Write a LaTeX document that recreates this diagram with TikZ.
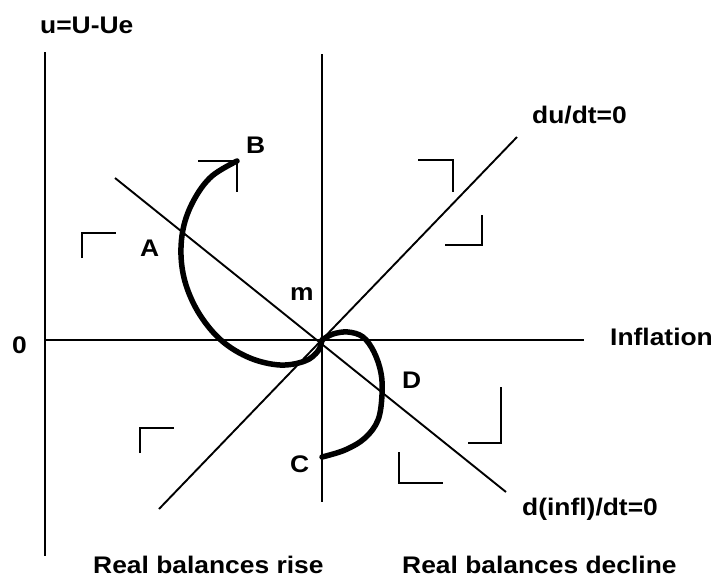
\documentclass[tikz,border=0pt]{standalone}
\usepackage{fontspec}
\setmainfont{Liberation Sans}[FakeStretch=1.1]
\begin{document}
\begin{tikzpicture}[x=1pt,y=-1pt,
  thinline/.style={line width=1.9pt, line cap=butt},
  thickcurve/.style={line width=5.5pt, line cap=round, line join=round},
  lbl/.style={inner sep=0pt, anchor=base west, font=\bfseries\fontsize{24}{28}\selectfont}]
\useasboundingbox (0,0) rectangle (713,579);
% axes and lines
\coordinate (lt) at (45,52);
\coordinate (lb) at (45,556);
\coordinate (mt) at (322,54);
\coordinate (mb) at (322,502);
\coordinate (hl) at (45,340);
\coordinate (hr) at (584,340);
\coordinate (o) at (322,340);
\coordinate (dua) at (159,509);
\coordinate (dub) at (517,137);
\coordinate (dia) at (115,178);
\coordinate (dib) at (506,492);
\draw[thinline] (lt) -- (lb);
\draw[thinline] (mt) -- (mb);
\draw[thinline] (hl) -- (hr);
\draw[thinline] (dua) -- (dub);
\draw[thinline] (dia) -- (dib);
% bracket marks
\draw[thinline] (82,258) -- (82,233) -- (116,233);
\draw[thinline] (198,161) -- (237,161) -- (237,192);
\draw[thinline] (418,160) -- (453,160) -- (453,192);
\draw[thinline] (482,215) -- (482,245) -- (445,245);
\draw[thinline] (501,387) -- (501,443) -- (468,443);
\draw[thinline] (399,452) -- (399,483) -- (443,483);
\draw[thinline] (140,453) -- (140,428) -- (174,428);
% trajectory curves
\draw[thickcurve] plot[smooth, tension=0.6] coordinates {(237,161) (212,176) (195,198) (184,225) (181,255) (186,285) (200,315) (222,341) (250,358) (280,365) (305,361) (318,351) (322,340)};
\draw[thickcurve] plot[smooth, tension=0.6] coordinates {(322,340) (333,334) (348,332) (363,337) (374,352) (381,373) (382,395) (378,420) (365,438) (345,450) (322,457)};
% labels
\node[lbl] (ylab) at (40,33) {u=U-Ue};
\node[lbl] (Bl) at (246,153) {B};
\node[lbl] (Al) at (140,256) {A};
\node[lbl] (ml) at (290,300) {m};
\node[lbl] (zl) at (12,353) {0};
\node[lbl] (xlab) at (610,345) {Inflation};
\node[lbl] (Dl) at (402,388) {D};
\node[lbl] (Cl) at (290,472) {C};
\node[lbl] (dul) at (532,123) {du/dt=0};
\node[lbl] (dil) at (522,515) {d(infl)/dt=0};
\node[lbl] (rr) at (93,573) {Real balances rise};
\node[lbl] (rd) at (402,573) {Real balances decline};
\end{tikzpicture}
\end{document}
